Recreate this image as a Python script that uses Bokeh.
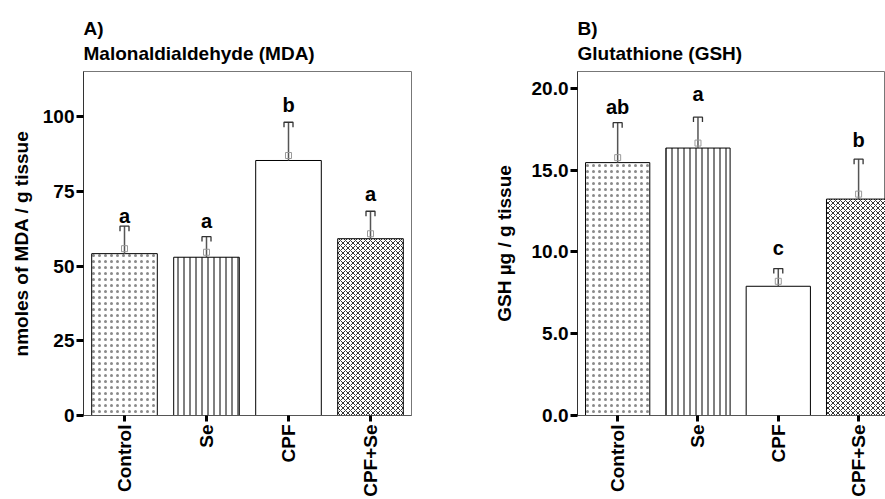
import math
from bokeh.plotting import figure
from bokeh.layouts import row
from bokeh.models import (FixedTicker, ColumnDataSource, Range1d, Title, PrintfTickFormatter)
from bokeh.core.properties import value
from bokeh.embed import file_html
from bokeh.resources import INLINE

groups = ["Control", "Se", "CPF", "CPF+Se"]

mda_mean = [54.2, 53.0, 85.4, 59.2]
mda_err = [9.2, 6.9, 12.8, 9.2]
mda_letters = ["a", "a", "b", "a"]
mda_letter_y = [66.8, 65.0, 104.1, 74.1]
mda_ticks = [0, 25, 50, 75, 100]

gsh_mean = [15.46, 16.35, 7.90, 13.23]
gsh_err = [2.44, 1.89, 1.08, 2.44]
gsh_letters = ["ab", "a", "c", "b"]
gsh_letter_y = [18.85, 19.64, 10.24, 16.86]
gsh_ticks = [0, 5, 10, 15, 20]

FONT = "Liberation Sans"
H = 499
TOP = 71
BOTTOM = 82

hatch_pattern = ["dot", "vertical_line", " ", "diagonal_cross"]
hatch_color = ["#8a8a8a", "#000000", "#000000", "#333333"]
hatch_scale = [6, 6, 6, 5]


def panel(mean, err, letters, letter_y, ticks, fmt, y_end, x_end, width, left, right,
          ylabel, tag, title, label_standoff):
    p = figure(width=width, height=H, x_range=Range1d(0, x_end), y_range=Range1d(0, y_end),
               output_backend="svg", toolbar_location=None,
               min_border_left=left, min_border_right=right,
               min_border_top=TOP, min_border_bottom=BOTTOM)
    p.background_fill_color = "white"
    p.border_fill_color = "white"
    p.grid.visible = False
    p.outline_line_color = "#777777"
    p.outline_line_width = 1

    frame_w = width - left - right
    frame_h = H - TOP - BOTTOM
    px_x = x_end / frame_w
    px_y = y_end / frame_h

    xs = [i + 0.5 for i in range(len(groups))]
    upper = [m + e for m, e in zip(mean, err)]

    src = ColumnDataSource(dict(x=xs, top=mean, hatch=hatch_pattern, hcolor=hatch_color,
                                hscale=hatch_scale))
    p.vbar(x="x", top="top", width=0.8, source=src, fill_color="white",
           line_color="black", line_width=1, hatch_pattern="hatch",
           hatch_color="hcolor", hatch_scale="hscale", hatch_weight=1)

    # error bars
    p.segment(x0=xs, y0=mean, x1=xs, y1=upper, line_color="#555555", line_width=1.5)
    dx = 4.5 * px_x
    dy = 5 * px_y
    cap_xs = [[x - dx, x - dx, x + dx, x + dx] for x in xs]
    cap_ys = [[u - dy, u, u, u - dy] for u in upper]
    p.multi_line(xs=cap_xs, ys=cap_ys, line_color="#333333", line_width=1.3)
    p.scatter(x=xs, y=[m + 5 * px_y for m in mean], marker="square", size=6,
              fill_color=None, line_color="#9a9a9a", line_width=1)

    # significance letters
    p.text(x=xs, y=letter_y, text=letters, text_font=value(FONT), text_font_size="20px",
           text_font_style="bold", text_align="center", text_baseline="middle",
           text_color="black")

    # y axis
    yax = p.left[0]
    yax.ticker = FixedTicker(ticks=ticks)
    if fmt:
        yax.formatter = PrintfTickFormatter(format=fmt)
    yax.major_tick_in = 0
    yax.major_tick_out = 7
    yax.major_tick_line_width = 3
    yax.major_tick_line_color = "black"
    yax.minor_tick_line_color = None
    yax.axis_line_color = "#333333"
    yax.major_label_text_font = FONT
    yax.major_label_text_font_style = "bold"
    yax.major_label_text_font_size = "19px"
    yax.major_label_text_color = "black"
    yax.major_label_standoff = 2
    yax.axis_label = ylabel
    yax.axis_label_text_font = FONT
    yax.axis_label_text_font_style = "bold"
    yax.axis_label_text_font_size = "19px"
    yax.axis_label_text_color = "black"
    yax.axis_label_standoff = label_standoff

    # x axis
    xax = p.below[0]
    xax.ticker = FixedTicker(ticks=xs)
    xax.major_label_overrides = {x: g for x, g in zip(xs, groups)}
    xax.major_label_orientation = math.pi / 2
    xax.major_tick_in = 0
    xax.major_tick_out = 6
    xax.major_tick_line_width = 3
    xax.major_tick_line_color = "black"
    xax.minor_tick_line_color = None
    xax.axis_line_color = "#555555"
    xax.major_label_text_font = FONT
    xax.major_label_text_font_style = "bold"
    xax.major_label_text_font_size = "19px"
    xax.major_label_text_color = "black"
    xax.major_label_standoff = 3

    # two-line title
    p.add_layout(Title(text=tag + "\n" + title, align="left", text_font=FONT,
                       text_font_size="19px", text_font_style="bold", text_color="black",
                       standoff=15, text_line_height=1.2), "above")
    return p


p1 = panel(mda_mean, mda_err, mda_letters, mda_letter_y, mda_ticks, None, 115.2, 4.0,
           440, 83, 29, "nmoles of MDA / g tissue", "A)", "Malonaldialdehyde (MDA)", 8)
p2 = panel(gsh_mean, gsh_err, gsh_letters, gsh_letter_y, gsh_ticks, "%.1f", 21.03, 3.835,
           445, 137, 0, "GSH µg / g tissue", "B)", "Glutathione (GSH)", 14)

layout = row(p1, p2)
open("out.html", "w").write(file_html(layout, INLINE))
